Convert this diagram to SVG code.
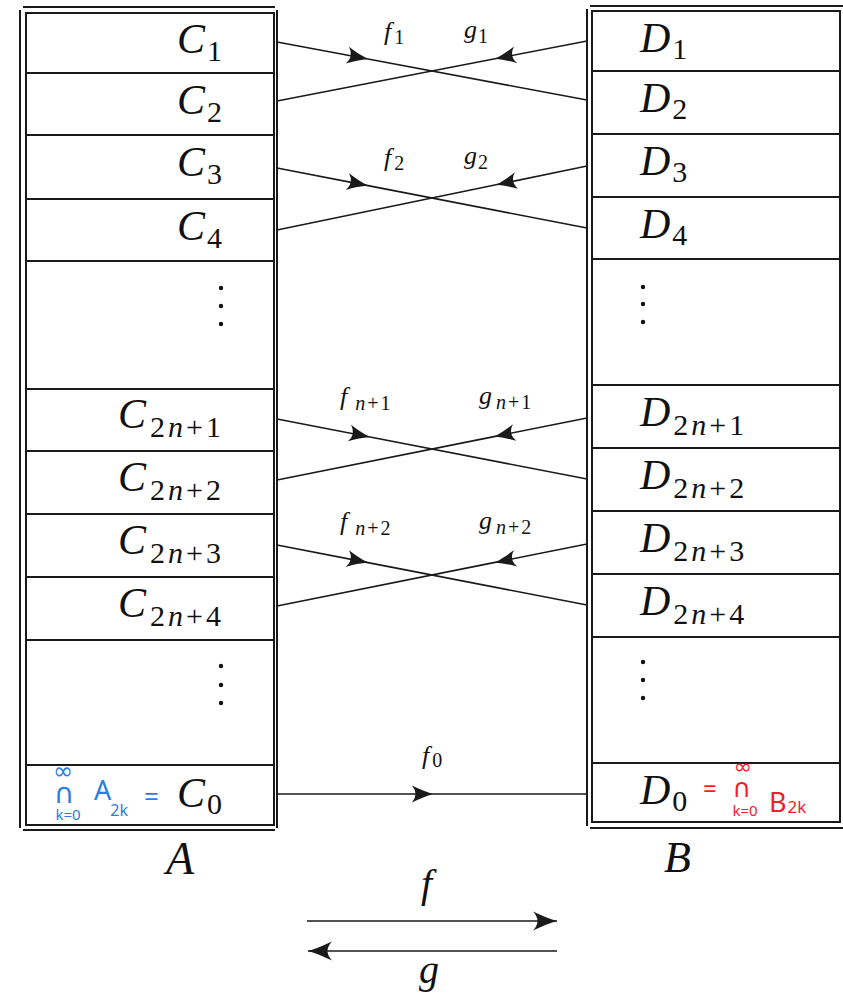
<svg xmlns="http://www.w3.org/2000/svg" width="843" height="1001" viewBox="0 0 843 1001">
<style>
.bg{fill:#fff}
.row{fill:none;stroke:#1a1a1a;stroke-width:2}
.fr{stroke:#1a1a1a;stroke-width:2;fill:none}
.conn{stroke:#1a1a1a;stroke-width:1.6;fill:none}
.m{font-family:'Liberation Serif','Times New Roman',Times,'DejaVu Serif',serif;font-style:italic;fill:#111}
.big{font-size:42px}
.sub{font-size:30px;font-style:normal}
.subi{font-size:30px;font-style:italic}
.lab{font-size:26px}
.ls{font-size:20px;font-style:normal}
.lsi{font-size:20px;font-style:italic}
.dot{fill:#111}
.blue{font-family:'Noto Sans',sans-serif;fill:#2a7de1}
.red{font-family:'Noto Sans',sans-serif;fill:#e8232b}
.sym{font-family:'DejaVu Sans',sans-serif}
</style>
<defs>
<marker id="ah" viewBox="-23 -9 24 18" refX="0" refY="0" markerWidth="24" markerHeight="18" markerUnits="userSpaceOnUse" orient="auto">
<path d="M0,0 C-7,-2 -14,-5 -21,-8.5 Q-14,0 -21,8.5 C-14,5 -7,2 0,0 Z" fill="#1a1a1a"/>
</marker>
<marker id="ahb" viewBox="-25 -10 26 20" refX="0" refY="0" markerWidth="26" markerHeight="20" markerUnits="userSpaceOnUse" orient="auto">
<path d="M0,0 C-7,-2.2 -16,-5.5 -24,-9.5 Q-15,0 -24,9.5 C-16,5.5 -7,2.2 0,0 Z" fill="#1a1a1a"/>
</marker>
</defs>
<rect class="bg" x="0" y="0" width="843" height="1001"/>

<g id="frameA">
<line class="fr" x1="23" y1="7" x2="275" y2="7"/>
<line class="fr" x1="20" y1="10" x2="20" y2="828"/>
<line class="fr" x1="277" y1="10" x2="277" y2="828"/>
<line class="fr" x1="23" y1="830" x2="275" y2="830"/>
</g>
<g id="frameB">
<line class="fr" x1="590" y1="6" x2="843" y2="6"/>
<line class="fr" x1="587" y1="9" x2="587" y2="826"/>
<line class="fr" x1="590" y1="828" x2="843" y2="828"/>
</g>

<g id="C1"><rect class="row" x="26" y="13" width="248" height="60"/><text class="m big" x="222" y="53" text-anchor="end">C<tspan class="sub" dx="2" dy="8">1</tspan></text></g>
<g id="C2"><rect class="row" x="26" y="73" width="248" height="62"/><text class="m big" x="222" y="114" text-anchor="end">C<tspan class="sub" dx="2" dy="8">2</tspan></text></g>
<g id="C3"><rect class="row" x="26" y="135" width="248" height="64"/><text class="m big" x="222" y="176" text-anchor="end">C<tspan class="sub" dx="2" dy="8">3</tspan></text></g>
<g id="C4"><rect class="row" x="26" y="199" width="248" height="62"/><text class="m big" x="222" y="240" text-anchor="end">C<tspan class="sub" dx="2" dy="8">4</tspan></text></g>
<g id="Cdots1"><rect class="row" x="26" y="261" width="248" height="128"/><circle class="dot" cx="221" cy="288" r="2.2"/><circle class="dot" cx="221" cy="306" r="2.2"/><circle class="dot" cx="221" cy="324" r="2.2"/></g>
<g id="C2n1"><rect class="row" x="26" y="389" width="248" height="62"/><text class="m big" x="224" y="428" text-anchor="end">C<tspan class="sub" dx="4" dy="9" letter-spacing="3">2<tspan class="subi">n</tspan>+1</tspan></text></g>
<g id="C2n2"><rect class="row" x="26" y="451" width="248" height="63"/><text class="m big" x="224" y="491" text-anchor="end">C<tspan class="sub" dx="4" dy="9" letter-spacing="3">2<tspan class="subi">n</tspan>+2</tspan></text></g>
<g id="C2n3"><rect class="row" x="26" y="514" width="248" height="63"/><text class="m big" x="224" y="554" text-anchor="end">C<tspan class="sub" dx="4" dy="9" letter-spacing="3">2<tspan class="subi">n</tspan>+3</tspan></text></g>
<g id="C2n4"><rect class="row" x="26" y="577" width="248" height="63"/><text class="m big" x="224" y="617" text-anchor="end">C<tspan class="sub" dx="4" dy="9" letter-spacing="3">2<tspan class="subi">n</tspan>+4</tspan></text></g>
<g id="Cdots2"><rect class="row" x="26" y="640" width="248" height="125"/><circle class="dot" cx="221" cy="666" r="2.2"/><circle class="dot" cx="221" cy="685" r="2.2"/><circle class="dot" cx="221" cy="703" r="2.2"/></g>
<g id="C0"><rect class="row" x="26" y="765" width="248" height="60"/><text class="m big" x="222" y="807" text-anchor="end">C<tspan class="sub" dx="2" dy="7">0</tspan></text>
<text class="blue sym" text-anchor="middle"><tspan x="63" y="779" font-size="24">∞</tspan><tspan x="64" y="803" font-size="28">∩</tspan><tspan x="68" y="820" font-size="15" font-family="Noto Sans, sans-serif">k=0</tspan></text>
<text class="blue" x="94" y="800" font-size="27">A<tspan dx="-1" dy="16" font-size="16">2k</tspan></text>
<text class="blue" x="144" y="806" font-size="26">=</text>
</g>

<g id="D1"><rect class="row" x="592" y="11" width="248" height="60"/><text class="m big" x="640" y="52">D<tspan class="sub" dx="2" dy="7">1</tspan></text></g>
<g id="D2"><rect class="row" x="592" y="71" width="248" height="63"/><text class="m big" x="640" y="112">D<tspan class="sub" dx="2" dy="7">2</tspan></text></g>
<g id="D3"><rect class="row" x="592" y="134" width="248" height="63"/><text class="m big" x="640" y="175">D<tspan class="sub" dx="2" dy="7">3</tspan></text></g>
<g id="D4"><rect class="row" x="592" y="197" width="248" height="62"/><text class="m big" x="640" y="238">D<tspan class="sub" dx="2" dy="7">4</tspan></text></g>
<g id="Ddots1"><rect class="row" x="592" y="259" width="248" height="126"/><circle class="dot" cx="643" cy="287" r="2.2"/><circle class="dot" cx="643" cy="304" r="2.2"/><circle class="dot" cx="643" cy="322" r="2.2"/></g>
<g id="D2n1"><rect class="row" x="592" y="385" width="248" height="63"/><text class="m big" x="640" y="426">D<tspan class="sub" dx="3" dy="9" letter-spacing="3">2<tspan class="subi">n</tspan>+1</tspan></text></g>
<g id="D2n2"><rect class="row" x="592" y="448" width="248" height="63"/><text class="m big" x="640" y="489">D<tspan class="sub" dx="3" dy="9" letter-spacing="3">2<tspan class="subi">n</tspan>+2</tspan></text></g>
<g id="D2n3"><rect class="row" x="592" y="511" width="248" height="63"/><text class="m big" x="640" y="552">D<tspan class="sub" dx="3" dy="9" letter-spacing="3">2<tspan class="subi">n</tspan>+3</tspan></text></g>
<g id="D2n4"><rect class="row" x="592" y="574" width="248" height="63"/><text class="m big" x="640" y="615">D<tspan class="sub" dx="3" dy="9" letter-spacing="3">2<tspan class="subi">n</tspan>+4</tspan></text></g>
<g id="Ddots2"><rect class="row" x="592" y="637" width="248" height="126"/><circle class="dot" cx="643" cy="662" r="2.2"/><circle class="dot" cx="643" cy="680" r="2.2"/><circle class="dot" cx="643" cy="698" r="2.2"/></g>
<g id="D0"><rect class="row" x="592" y="763" width="248" height="59"/><text class="m big" x="640" y="804">D<tspan class="sub" dx="2" dy="7">0</tspan></text>
<text class="red" x="703" y="797" font-size="24">=</text>
<text class="red sym" text-anchor="middle"><tspan x="743" y="774" font-size="22">∞</tspan><tspan x="742" y="797" font-size="26">∩</tspan><tspan x="745" y="816" font-size="15" font-family="Noto Sans, sans-serif">k=0</tspan></text>
<text class="red" x="769" y="812" font-size="27">B<tspan dx="1" dy="1" font-size="17">2k</tspan></text>
</g>

<g id="labelA"><text class="m" x="166" y="874" font-size="46">A</text></g>
<g id="labelB"><text class="m" x="664" y="872" font-size="44">B</text></g>

<g id="connectors">
<path class="conn" d="M277,42 L368,59.03 L587,100" marker-mid="url(#ah)"/>
<path class="conn" d="M587,41 L495,58.81 L277,101" marker-mid="url(#ah)"/>
<path class="conn" d="M277,168 L368,185.61 L587,228" marker-mid="url(#ah)"/>
<path class="conn" d="M587,166 L496,184.79 L277,230" marker-mid="url(#ah)"/>
<path class="conn" d="M277,419 L370,437 L587,479" marker-mid="url(#ah)"/>
<path class="conn" d="M587,418 L494,436.6 L277,480" marker-mid="url(#ah)"/>
<path class="conn" d="M277,545 L368,562.61 L587,605" marker-mid="url(#ah)"/>
<path class="conn" d="M587,544 L495,562.4 L277,606" marker-mid="url(#ah)"/>
<path class="conn" d="M277,794 L433,794 L587,794" marker-mid="url(#ah)"/>
<line class="conn" x1="307" y1="921" x2="557" y2="921" marker-end="url(#ahb)"/>
<line class="conn" x1="557" y1="951" x2="308" y2="951" marker-end="url(#ahb)"/>
<text class="m lab" x="384" y="40">f<tspan class="ls" dx="3" dy="4">1</tspan></text>
<text class="m lab" x="464" y="38">g<tspan class="ls" dx="1" dy="5">1</tspan></text>
<text class="m lab" x="384" y="166">f<tspan class="ls" dx="3" dy="4">2</tspan></text>
<text class="m lab" x="464" y="164">g<tspan class="ls" dx="1" dy="5">2</tspan></text>
<text class="m lab" x="340" y="405">f<tspan class="ls" dx="8" dy="5" letter-spacing="2"><tspan class="lsi">n</tspan>+1</tspan></text>
<text class="m lab" x="479" y="404">g<tspan class="ls" dx="4" dy="5" letter-spacing="2"><tspan class="lsi">n</tspan>+1</tspan></text>
<text class="m lab" x="340" y="530">f<tspan class="ls" dx="8" dy="5" letter-spacing="2"><tspan class="lsi">n</tspan>+2</tspan></text>
<text class="m lab" x="479" y="529">g<tspan class="ls" dx="4" dy="5" letter-spacing="2"><tspan class="lsi">n</tspan>+2</tspan></text>
<text class="m lab" x="422" y="764">f<tspan class="ls" dx="3" dy="3">0</tspan></text>
<text class="m" x="421" y="897" font-size="40">f</text>
<text class="m" x="419" y="983" font-size="40">g</text>
</g>
</svg>
